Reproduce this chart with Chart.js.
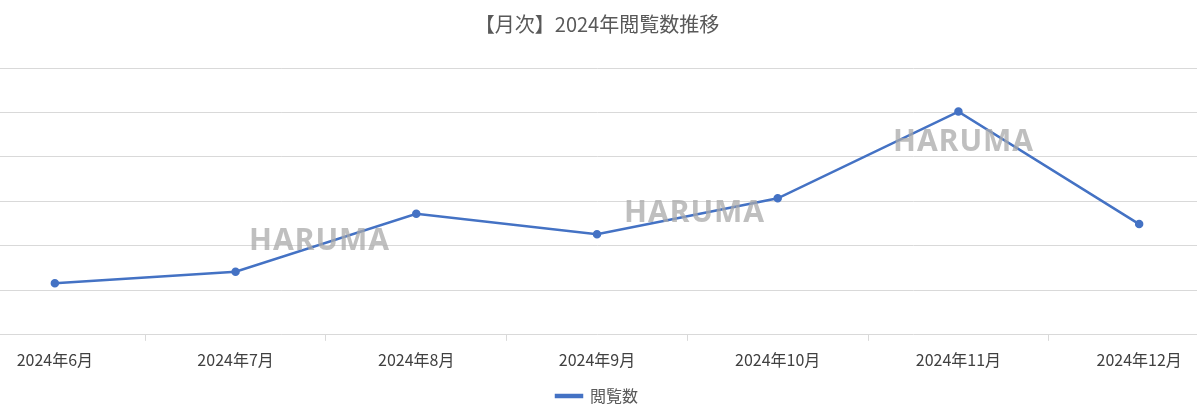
<!DOCTYPE html>
<html><head><meta charset="utf-8">
<script src="https://cdn.jsdelivr.net/npm/chart.js@4"></script>
<style>
html,body{margin:0;padding:0;background:#fff;overflow:hidden;width:1197px;height:416px;position:relative}
#wrap{position:absolute;left:-41px;top:0;width:1276px;height:416px}
.wm{position:absolute;font-family:"Noto Sans","DejaVu Sans",sans-serif;font-weight:bold;font-size:30px;color:rgba(170,170,170,0.75);letter-spacing:1px;line-height:1}
</style></head><body>
<div id="wrap"><canvas id="c"></canvas></div>
<div class="wm" style="left:249px;top:224px">HARUMA</div>
<div class="wm" style="left:624px;top:196px">HARUMA</div>
<div class="wm" style="left:893px;top:125px">HARUMA</div>
<script>
const categories=["2024年6月","2024年7月","2024年8月","2024年9月","2024年10月","2024年11月","2024年12月"];
const views=[1.16,1.42,2.72,2.26,3.07,5.02,2.49];
const F='"Noto Sans CJK JP","Noto Sans",sans-serif';
new Chart(document.getElementById('c'),{type:'line',
data:{labels:categories,datasets:[{label:'閲覧数',data:views,borderColor:'#4472c4',backgroundColor:'#4472c4',borderWidth:2.5,pointRadius:3,pointHoverRadius:3,tension:0}]},
options:{responsive:true,maintainAspectRatio:false,animation:false,
layout:{padding:{top:0,bottom:2,left:0,right:0}},
plugins:{title:{display:true,text:'【月次】2024年閲覧数推移',color:'#595959',font:{family:F,size:20,weight:'normal'},padding:{top:12,bottom:32}},
legend:{position:'bottom',labels:{color:'#595959',font:{family:F,size:16},boxWidth:26,boxHeight:2,padding:8}},tooltip:{enabled:false}},
scales:{x:{offset:true,grid:{offset:true,drawOnChartArea:false,tickLength:6,color:'#d9d9d9'},border:{display:false},ticks:{color:'#404040',font:{family:F,size:16},padding:10,maxRotation:0}},
y:{min:0,max:6,ticks:{display:false,stepSize:1},grid:{color:'#d9d9d9',drawTicks:false},border:{display:false}}}}});
</script></body></html>
